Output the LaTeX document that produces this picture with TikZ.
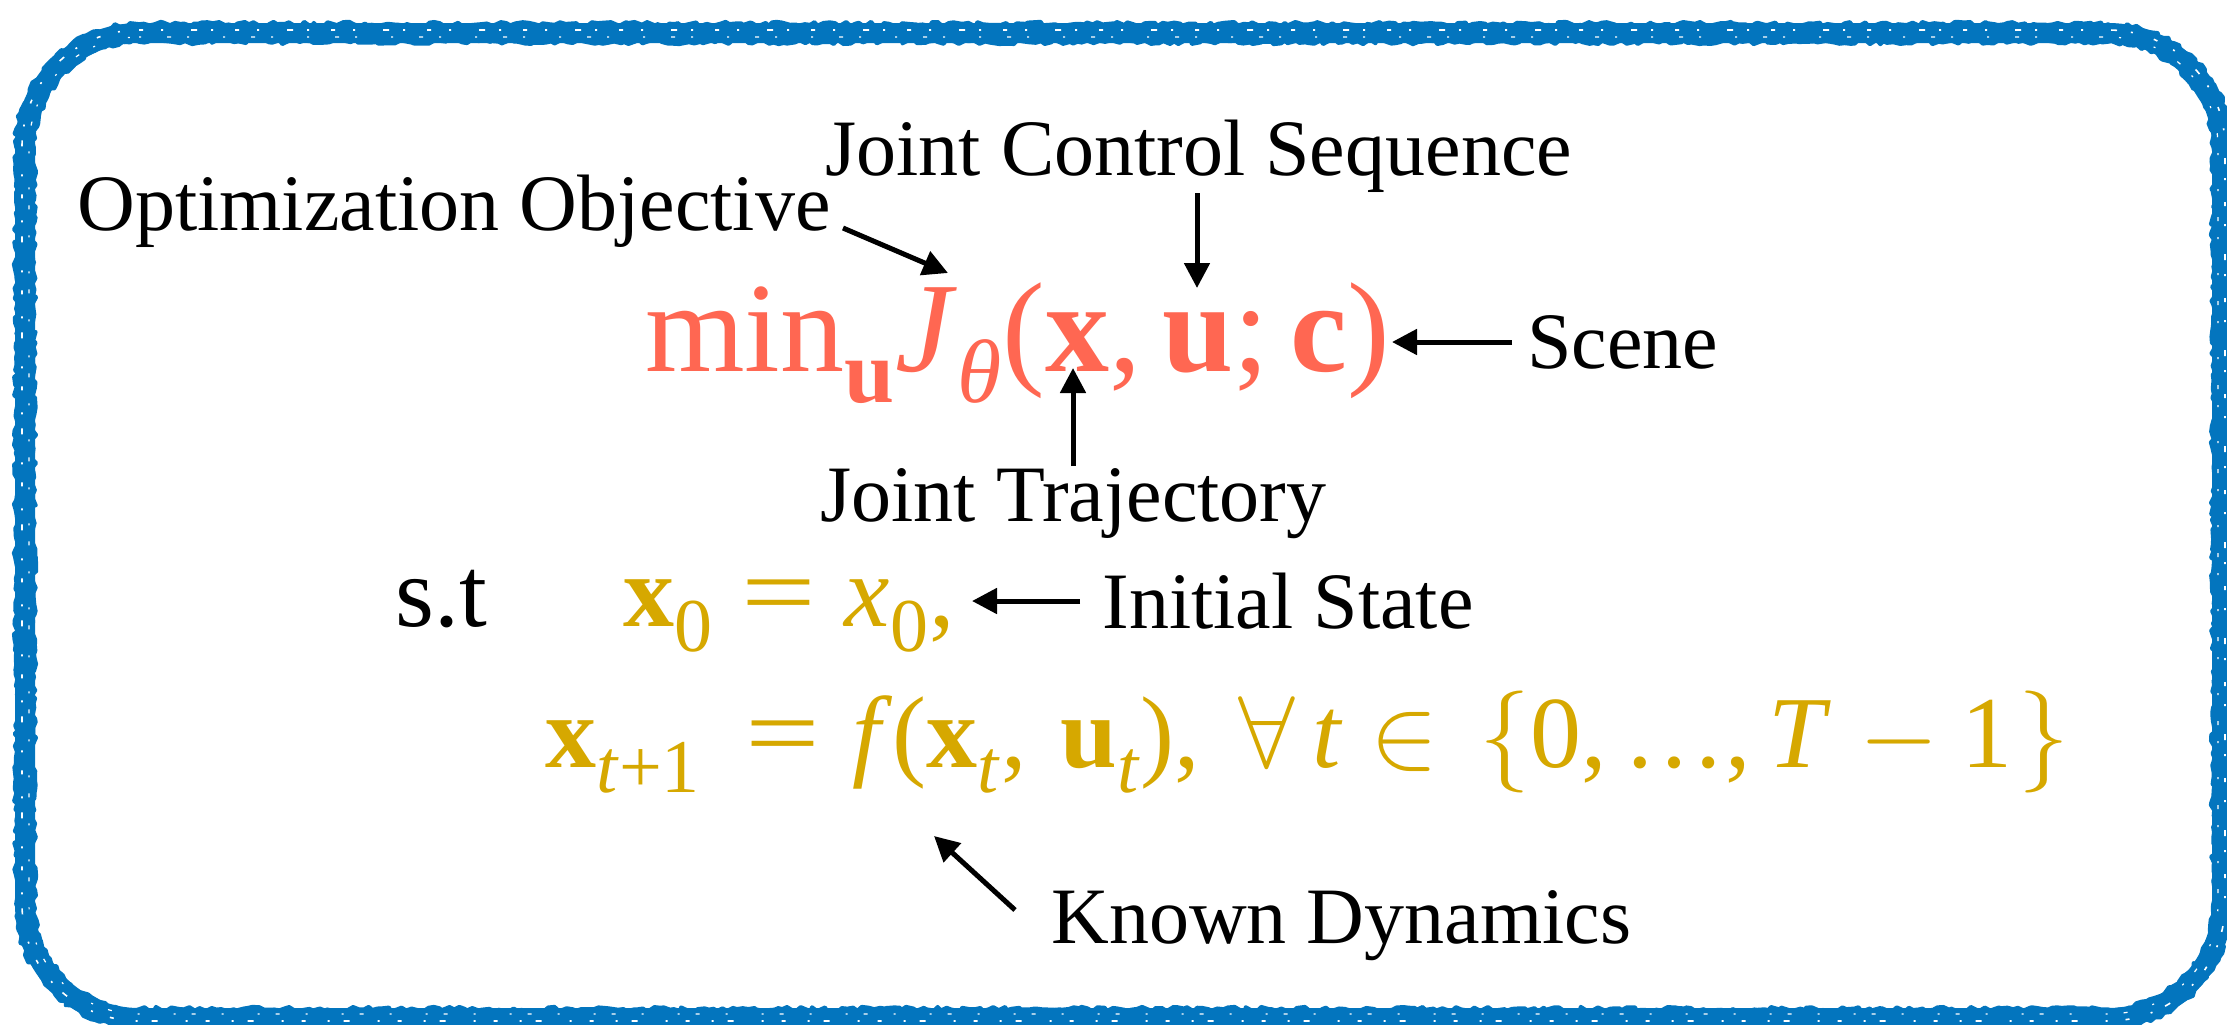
\RequirePackage{fix-cm}
\documentclass[tikz,border=0pt]{standalone}
\usepackage{amsmath}
\usepackage{graphicx}
\usepackage{fontspec}
\setmainfont{Liberation Serif}
\usetikzlibrary{arrows.meta,decorations.pathmorphing}
\definecolor{boxblue}{RGB}{3,117,190}
\definecolor{objred}{RGB}{255,103,82}
\definecolor{dyngold}{RGB}{214,168,0}
\DeclareMathSizes{64}{64}{45}{32}
\DeclareMathSizes{51}{51}{38}{28}
\newcommand{\tB}[1]{\text{\bfseries\upshape #1}}
\newcommand{\tI}[1]{\text{\mdseries\textit{#1}}}
\newcommand{\tR}[1]{\text{\mdseries\upshape #1}}
\newcommand{\pc}{\mathpunct{\tR{,}}}
\newcommand{\op}{\mathopen{\tR{(}}}
\newcommand{\cl}{\mathclose{\tR{)}}}
\newcommand{\eqs}{\mathrel{\scalebox{1.3}[1]{\tR{=}}}}
\begin{document}
\begin{tikzpicture}[x=0.5pt,y=-0.5pt,
  lbl/.style={inner sep=0pt, anchor=base west, font=\fontsize{40}{48}\selectfont},
  eqn/.style={inner sep=0pt, anchor=base west},
  dyneq/.style={eqn, text=dyngold, font=\fontsize{51}{61}\selectfont},
  arr/.style={-{Triangle[length=12.5pt,width=12.5pt]}, line width=2.5pt, black},
  frame/.style n args={5}{insert path={(#1+#5,#2) -- (#3-#5,#2)
     arc[start angle=-90,end angle=0,radius=#5] -- (#3,#4-#5)
     arc[start angle=0,end angle=90,radius=#5] -- (#1+#5,#4)
     arc[start angle=90,end angle=180,radius=#5] -- (#1,#2+#5)
     arc[start angle=180,end angle=270,radius=#5] -- cycle}},
  rough/.style={boxblue, line width=1.8pt, line join=round, decorate,
    decoration={random steps, segment length=2.5pt, amplitude=1.2pt}},
]
\useasboundingbox (0,0) rectangle (2227,1024);
% sketchy frame
\pgfmathsetseed{7}
\draw[boxblue, line width=10pt] [frame={25}{33}{2222}{1018}{114}];
\draw[rough] [frame={16}{24}{2231}{1027}{123}];
\draw[rough] [frame={34}{42}{2213}{1009}{105}];
\draw[white, line width=0.8pt, dash pattern=on 2pt off 9pt on 1pt off 14pt on 3pt off 7pt on 1pt off 11pt]
  [frame={22}{30}{2225}{1021}{117}];
\draw[white, line width=0.6pt, dash pattern=on 1pt off 13pt on 2pt off 8pt on 1pt off 17pt]
  [frame={29}{37}{2218}{1014}{110}];
% labels
\node[lbl] (opt) at (77,230) {Optimization Objective};
\node[lbl] (jcs) at (825,175) {Joint Control Sequence};
\node[lbl] (scene) at (1527,368) {Scene};
\node[lbl] (jt) at (820,521) {Joint Trajectory};
\node[lbl, font=\fontsize{50}{60}\selectfont] (st) at (395,626) {s.t};
\node[lbl] (init) at (1102,628) {Initial State};
\node[lbl] (kd) at (1051,943) {Known Dynamics};
% objective
\node[eqn, text=objred, font=\fontsize{64}{77}\selectfont] (obj) at (645,371)
  {$\tR{min}_{\tB{u}}^{}\tI{J}_{\tI{θ}}^{}\op\tB{x}\pc \tB{u}\mathpunct{\tR{;}} \tB{c}\cl$};
% initial condition
\node[dyneq] (x0) at (623,626) {$\tB{x}_{\tR{0}}^{} \eqs \tI{x}_{\tR{0}}^{}\pc$};
% dynamics line
\node[dyneq] (dynLhs) at (545,767) {$\tB{x}_{\tI{t}\mathbin{\tR{+}}\tR{1}}^{}$};
\node[dyneq] (dynEq) at (745,767) {$\eqs$};
\node[dyneq] (dynRhs) at (852,767)
  {$\tI{f}\op\tB{x}_{\tI{t}}^{}\pc\, \tB{u}_{\tI{t}}^{}\cl\pc$};
\node[dyneq] (dynAll) at (1238,767) {$\forall\, \tI{t} \in$};
\node[dyneq] (dynSet) at (1479,767)
  {$\{\tR{0}\pc\tR{…}\pc \tI{T}\mkern1mu-\tR{1}\mkern1mu\}$};
% connector ends
\coordinate (optTail) at (843,228);
\coordinate (optTip) at (948,273);
\coordinate (jcsTail) at (1197,193);
\coordinate (jcsTip) at (1197,288);
\coordinate (sceneTail) at (1512,342);
\coordinate (sceneTip) at (1392,342);
\coordinate (jtTail) at (1073,466);
\coordinate (jtTip) at (1073,368);
\coordinate (initTail) at (1080,601);
\coordinate (initTip) at (972,601);
\coordinate (kdTail) at (1015,910);
\coordinate (kdTip) at (934,836);
% connectors
\draw[arr] (optTail) -- (optTip);
\draw[arr] (jcsTail) -- (jcsTip);
\draw[arr] (sceneTail) -- (sceneTip);
\draw[arr] (jtTail) -- (jtTip);
\draw[arr] (initTail) -- (initTip);
\draw[arr] (kdTail) -- (kdTip);
\end{tikzpicture}
\end{document}
